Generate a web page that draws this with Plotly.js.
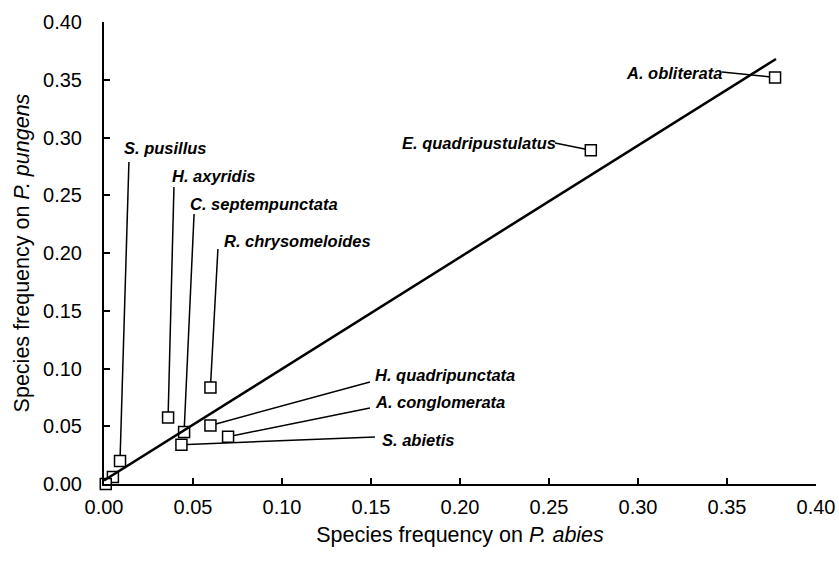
<!DOCTYPE html>
<html>
<head>
<meta charset="utf-8">
<script src="https://cdn.plot.ly/plotly-3.0.1.min.js"></script>
<style>html,body{margin:0;padding:0;background:#fff;}#chart{width:839px;height:564px;}</style>
</head>
<body>
<div id="chart"></div>
<script>
// Species and frequencies
var species = ["A. obliterata", "E. quadripustulatus", "R. chrysomeloides", "H. axyridis",
  "C. septempunctata", "H. quadripunctata", "A. conglomerata", "S. abietis", "S. pusillus", "", ""];
var freqAbies = [0.377, 0.2735, 0.0598, 0.036, 0.045, 0.0598, 0.0697, 0.0435, 0.009, 0.005, 0.001];
var freqPungens = [0.352, 0.289, 0.0835, 0.0576, 0.045, 0.0507, 0.041, 0.034, 0.020, 0.006, 0.000];

// Regression line endpoints
var fitX = [0.0, 0.3775];
var fitY = [0.003, 0.368];

// Label positions (left edge, middle) and leader-line starts
var labelX = [0.2921, 0.1663, 0.0663, 0.0371, 0.0472, 0.1511, 0.1511, 0.155, 0.0101];
var labelY = [0.3558, 0.2952, 0.2104, 0.2667, 0.2424, 0.0944, 0.071, 0.0381, 0.2909];
var leaderX = [0.3472, 0.2534, 0.064, 0.0393, 0.0506, 0.1494, 0.1494, 0.1522, 0.014];
var leaderY = [0.3567, 0.2952, 0.2035, 0.2571, 0.2338, 0.0883, 0.0658, 0.0407, 0.2788];

var tickVals = [0, 0.05, 0.10, 0.15, 0.20, 0.25, 0.30, 0.35, 0.40];
var tickText = ["0.00", "0.05", "0.10", "0.15", "0.20", "0.25", "0.30", "0.35", "0.40"];

var segX = [], segY = [];
for (var i = 0; i < leaderX.length; i++) {
  segX.push(leaderX[i], freqAbies[i], null);
  segY.push(leaderY[i], freqPungens[i], null);
}

var traces = [
  {x: segX, y: segY, mode: 'lines', line: {color: '#000', width: 1.5}, hoverinfo: 'skip', cliponaxis: false},
  {x: freqAbies, y: freqPungens, mode: 'markers', cliponaxis: false,
   marker: {symbol: 'square', size: 11, color: '#fff', line: {color: '#000', width: 1.5}}},
  {x: fitX, y: fitY, mode: 'lines', line: {color: '#000', width: 2.5}, cliponaxis: false}
];

var annotations = [];
for (var j = 0; j < labelX.length; j++) {
  annotations.push({x: labelX[j], y: labelY[j], xref: 'x', yref: 'y', text: '<b><i>' + species[j] + '</i></b>',
    showarrow: false, xanchor: 'left', yanchor: 'middle',
    font: {family: 'Liberation Sans, Arial, sans-serif', size: 16.5, color: '#000'}});
}

var layout = {
  width: 839, height: 564,
  margin: {l: 104, r: 23, t: 22, b: 80},
  paper_bgcolor: '#fff', plot_bgcolor: '#fff',
  showlegend: false,
  font: {family: 'Liberation Sans, Arial, sans-serif', color: '#000'},
  xaxis: {range: [0, 0.4], tickvals: tickVals, ticktext: tickText, ticks: 'inside', ticklen: 6, tickwidth: 2,
    tickcolor: '#000', showline: true, linecolor: '#000', linewidth: 2, showgrid: false, zeroline: false,
    tickfont: {size: 20}, ticklabelstandoff: 4,
    title: {text: 'Species frequency on <i>P. abies</i>', font: {size: 21.5}, standoff: 10}},
  yaxis: {range: [0, 0.4], tickvals: tickVals, ticktext: tickText, ticks: 'inside', ticklen: 6, tickwidth: 2,
    tickcolor: '#000', showline: true, linecolor: '#000', linewidth: 2, showgrid: false, zeroline: false,
    tickfont: {size: 20}, ticklabelstandoff: 16,
    title: {text: 'Species frequency on <i>P. pungens</i>', font: {size: 21.5}, standoff: 8}},
  annotations: annotations
};

Plotly.newPlot('chart', traces, layout, {displayModeBar: false, staticPlot: true});
</script>
</body>
</html>
